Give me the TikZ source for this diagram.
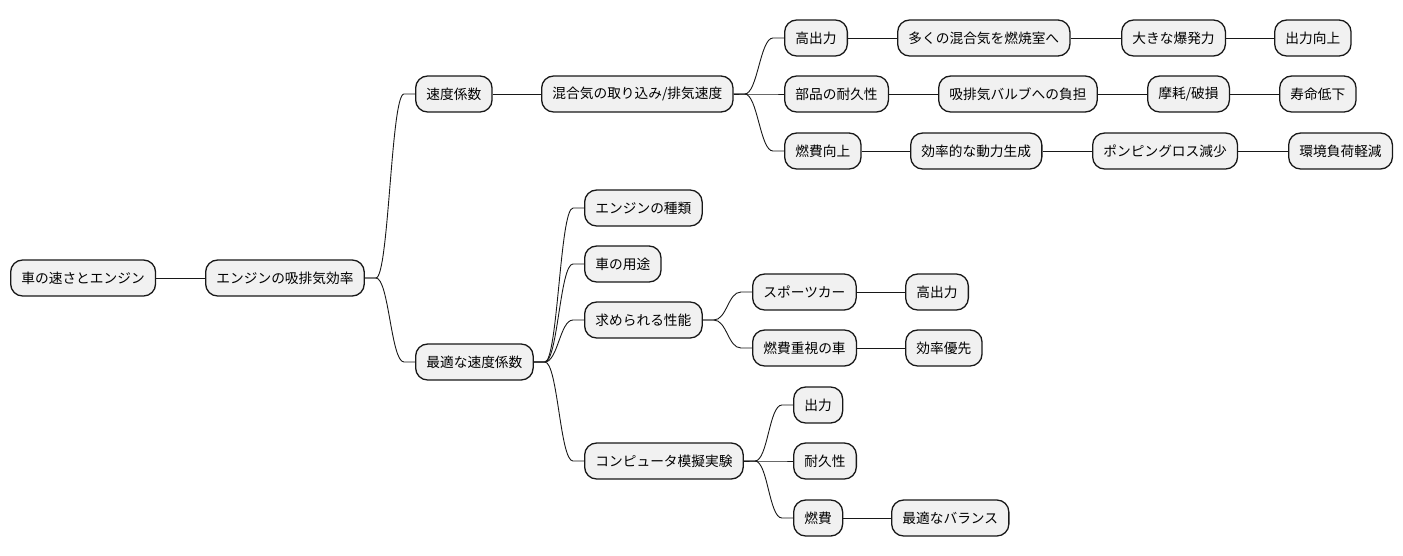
\documentclass[tikz,border=0pt]{standalone}
\usepackage{fontspec}
\setmainfont{Noto Sans CJK JP}
\usetikzlibrary{calc}
\definecolor{boxfill}{HTML}{F1F1F1}
\definecolor{boxline}{HTML}{181818}
\tikzset{
  mnode/.style={draw=boxline, fill=boxfill, line width=1.3pt, rounded corners=12pt,
    minimum height=36pt, inner xsep=10.8pt, inner ysep=0pt, anchor=west,
    font=\fontsize{13.7}{16}\selectfont, text=black},
  conn/.style={draw=boxline, line width=0.9pt}
}
\newcommand{\mmedge}[2]{\draw[conn] (#1.east) -- ++(11,0) .. controls +(13,0) and +(-13,0) .. ($(#2.west)+(-11,0)$) -- (#2.west);}
\begin{document}
\begin{tikzpicture}[x=1pt,y=-1pt]
\useasboundingbox (0,0) rectangle (1403,555);
\node[mnode] (root) at (10,278) {車の速さとエンジン};
\node[mnode] (n1) at (205,278) {エンジンの吸排気効率};
\node[mnode] (a) at (415,94) {速度係数};
\node[mnode] (a1) at (541,94) {混合気の取り込み/排気速度};
\node[mnode] (a11) at (784,38) {高出力};
\node[mnode] (a12) at (897,38) {多くの混合気を燃焼室へ};
\node[mnode] (a13) at (1121,38) {大きな爆発力};
\node[mnode] (a14) at (1274,38) {出力向上};
\node[mnode] (a21) at (784,94) {部品の耐久性};
\node[mnode] (a22) at (938,94) {吸排気バルブへの負担};
\node[mnode] (a23) at (1147,94) {摩耗/破損};
\node[mnode] (a24) at (1279,94) {寿命低下};
\node[mnode] (a31) at (784,151) {燃費向上};
\node[mnode] (a32) at (910,151) {効率的な動力生成};
\node[mnode] (a33) at (1092,151) {ポンピングロス減少};
\node[mnode] (a34) at (1288,151) {環境負荷軽減};
\node[mnode] (b) at (415,362) {最適な速度係数};
\node[mnode] (b1) at (584,208) {エンジンの種類};
\node[mnode] (b2) at (584,264) {車の用途};
\node[mnode] (b3) at (584,320) {求められる性能};
\node[mnode] (b31) at (752,292) {スポーツカー};
\node[mnode] (b311) at (905,292) {高出力};
\node[mnode] (b32) at (752,348) {燃費重視の車};
\node[mnode] (b321) at (905,348) {効率優先};
\node[mnode] (b4) at (584,461) {コンピュータ模擬実験};
\node[mnode] (b41) at (793,405) {出力};
\node[mnode] (b42) at (793,461) {耐久性};
\node[mnode] (b43) at (793,518) {燃費};
\node[mnode] (b431) at (891,518) {最適なバランス};
\draw[conn] (root.east) -- (n1.west);
\mmedge{n1}{a}
\mmedge{n1}{b}
\draw[conn] (a.east) -- (a1.west);
\mmedge{a1}{a11}
\mmedge{a1}{a21}
\mmedge{a1}{a31}
\draw[conn] (a11.east) -- (a12.west);
\draw[conn] (a12.east) -- (a13.west);
\draw[conn] (a13.east) -- (a14.west);
\draw[conn] (a21.east) -- (a22.west);
\draw[conn] (a22.east) -- (a23.west);
\draw[conn] (a23.east) -- (a24.west);
\draw[conn] (a31.east) -- (a32.west);
\draw[conn] (a32.east) -- (a33.west);
\draw[conn] (a33.east) -- (a34.west);
\mmedge{b}{b1}
\mmedge{b}{b2}
\mmedge{b}{b3}
\mmedge{b}{b4}
\mmedge{b3}{b31}
\mmedge{b3}{b32}
\draw[conn] (b31.east) -- (b311.west);
\draw[conn] (b32.east) -- (b321.west);
\mmedge{b4}{b41}
\mmedge{b4}{b42}
\mmedge{b4}{b43}
\draw[conn] (b43.east) -- (b431.west);
\end{tikzpicture}
\end{document}
